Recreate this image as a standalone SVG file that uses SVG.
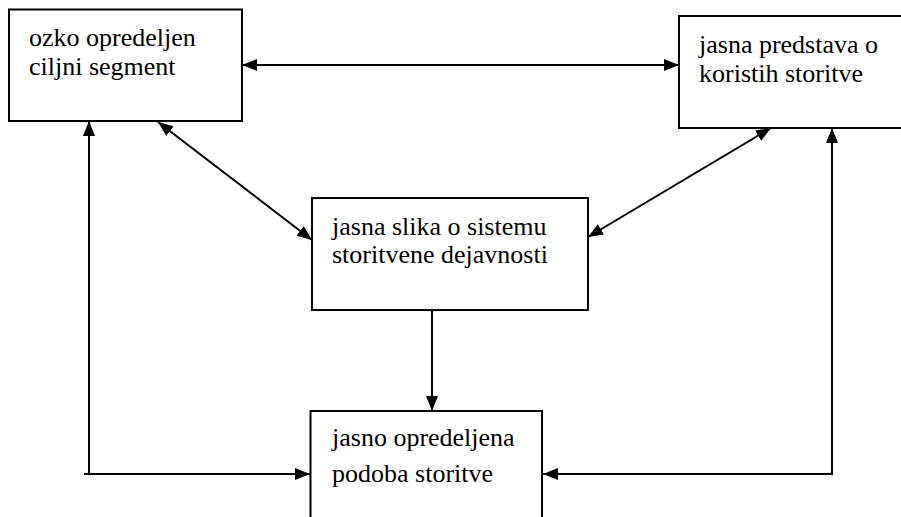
<svg xmlns="http://www.w3.org/2000/svg" width="901" height="517" viewBox="0 0 901 517">
<style>
.box{fill:#fff;stroke:#000;stroke-width:2}
.t{font-family:'Liberation Serif','DejaVu Serif','Times New Roman',Times,serif;font-size:26px;fill:#000}
.c{fill:none;stroke:#000;stroke-width:2}
.a{marker-end:url(#ah)}
.b{marker-start:url(#ah);marker-end:url(#ah)}
</style>
<defs>
<marker id="ah" markerUnits="userSpaceOnUse" markerWidth="16" markerHeight="13" refX="15" refY="6" orient="auto-start-reverse">
<path d="M0,0 L15,6 L0,12 z" fill="#000"/>
</marker>
</defs>
<rect width="901" height="517" fill="#fff"/>
<g id="n1">
<rect class="box" x="9" y="9.5" width="233" height="111.5"/>
<text class="t" font-family="Liberation Serif, serif" x="29" y="46">ozko opredeljen</text>
<text class="t" font-family="Liberation Serif, serif" x="29" y="75">ciljni segment</text>
</g>
<g id="n2">
<rect class="box" x="679" y="16" width="240" height="112"/>
<text class="t" font-family="Liberation Serif, serif" x="699" y="53">jasna predstava o</text>
<text class="t" font-family="Liberation Serif, serif" x="699" y="82">koristih storitve</text>
</g>
<g id="n3">
<rect class="box" x="312" y="198" width="276" height="112"/>
<text class="t" font-family="Liberation Serif, serif" x="332" y="235">jasna slika o sistemu</text>
<text class="t" font-family="Liberation Serif, serif" x="332" y="263">storitvene dejavnosti</text>
</g>
<g id="n4">
<rect class="box" x="310.5" y="411" width="231.5" height="130"/>
<text class="t" font-family="Liberation Serif, serif" x="332" y="446">jasno opredeljena</text>
<text class="t" font-family="Liberation Serif, serif" x="332" y="482">podoba storitve</text>
</g>
<g id="connectors">
<line class="c b" x1="242" y1="65" x2="679" y2="65"/>
<line class="c b" x1="158" y1="122" x2="312" y2="240"/>
<line class="c b" x1="771" y1="128" x2="588" y2="237"/>
<line class="c a" x1="89" y1="474" x2="89" y2="121"/>
<line class="c a" x1="84" y1="474" x2="310" y2="474"/>
<line class="c a" x1="432" y1="310" x2="432" y2="411"/>
<line class="c a" x1="832" y1="474" x2="832" y2="128"/>
<line class="c a" x1="833" y1="474" x2="543" y2="474"/>
</g>
</svg>
